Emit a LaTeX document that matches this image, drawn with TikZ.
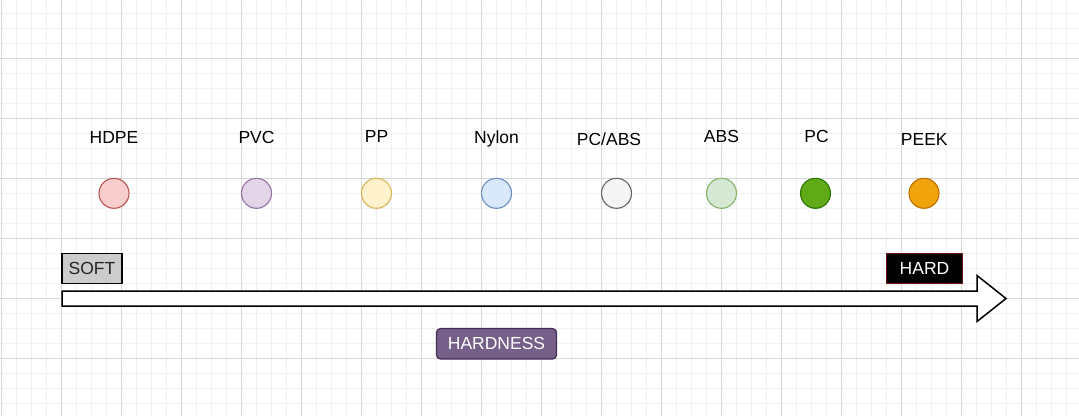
\documentclass[tikz,border=0pt]{standalone}
\usepackage{fontspec}
\setmainfont{Liberation Sans}
\usepackage{xcolor}
\usetikzlibrary{positioning}

\definecolor{gridMinor}{HTML}{F1F1F1}
\definecolor{gridMajor}{HTML}{D8D8D8}
\definecolor{hdpeFill}{HTML}{F8CECC}  \definecolor{hdpeLine}{HTML}{B85450}
\definecolor{pvcFill}{HTML}{E1D5E7}   \definecolor{pvcLine}{HTML}{9673A6}
\definecolor{ppFill}{HTML}{FFF2CC}    \definecolor{ppLine}{HTML}{D6B656}
\definecolor{nylonFill}{HTML}{DAE8FC} \definecolor{nylonLine}{HTML}{6C8EBF}
\definecolor{pcabsFill}{HTML}{F5F5F5} \definecolor{pcabsLine}{HTML}{666666}
\definecolor{absFill}{HTML}{D5E8D4}   \definecolor{absLine}{HTML}{82B366}
\definecolor{pcFill}{HTML}{60A917}    \definecolor{pcLine}{HTML}{2D7600}
\definecolor{peekFill}{HTML}{F0A30A}  \definecolor{peekLine}{HTML}{BD7000}
\definecolor{softFill}{HTML}{CCCCCC}
\definecolor{hardLine}{HTML}{6F1515}
\definecolor{scaleFill}{HTML}{76608A} \definecolor{scaleLine}{HTML}{432D57}

\begin{document}
\begin{tikzpicture}[x=1pt,y=-1pt]

\tikzset{disc/.style={circle, line width=1.1pt, minimum size=30pt, inner sep=0pt},
matName/.style={anchor=base, font=\fontsize{17.5}{20}\selectfont},
%boxes for the two ends and the caption
tag/.style={draw, line width=1.2pt, inner sep=0pt, font=\fontsize{17.5}{20}\selectfont}}

\useasboundingbox (0,0) rectangle (1079,416);

%background grid
\foreach \k in {0,...,71}
    \draw[line width=0.9pt,color=gridMinor] ({1.5+15*\k},0) -- ({1.5+15*\k},416);
\foreach \k in {0,...,28}
    \draw[line width=0.9pt,color=gridMinor] (0,{13+15*\k}) -- (1079,{13+15*\k});
\foreach \k in {0,...,17}
    \draw[line width=0.9pt,color=gridMajor] ({1.5+60*\k},0) -- ({1.5+60*\k},416);
\foreach \k in {0,...,5}
    \draw[line width=0.9pt,color=gridMajor] (0,{58+60*\k}) -- (1079,{58+60*\k});

%the materials
\foreach \n/\x/\c in {hdpe/114/hdpe, pvc/256.5/pvc, pp/376.5/pp, nylon/496.5/nylon, pcabs/616.5/pcabs, abs/721.5/abs, pc/815.5/pc, peek/924/peek}
    \node[disc, fill=\c Fill, draw=\c Line] (\n) at (\x,193.3) {};

\node[matName] (hdpeName) at (114,143.3) {HDPE};
\node[matName] (pvcName) at (256.5,143.3) {PVC};
\node[matName] (ppName) at (376.5,142.7) {PP};
\node[matName] (nylonName) at (496.5,143.3) {Nylon};
\node[matName] (pcabsName) at (609,145.3) {PC/ABS};
\node[matName] (absName) at (721.5,142) {ABS};
\node[matName] (pcName) at (816.5,142) {PC};
\node[matName] (peekName) at (924.3,145.5) {PEEK};

%the scale
\filldraw[line width=1.5pt, fill=white, line join=miter]
    (62,291) -- (977,291) -- (977,275.5) -- (1006,298.5) -- (977,321.5) -- (977,306) -- (62,306) -- cycle;

\node[tag, fill=softFill, text=black!85, minimum width=60pt, minimum height=30pt] (soft) at (92,268.5) {SOFT};
\node[tag, fill=black, draw=hardLine, line width=1pt, text=white, minimum width=76pt, minimum height=30.5pt] (hard) at (924.5,268.7) {HARD};
\node[tag, fill=scaleFill, draw=scaleLine, text=white, rounded corners=4pt, minimum width=120pt, minimum height=30.5pt] (hardness) at (496.5,343.8) {HARDNESS};

\end{tikzpicture}
\end{document}
